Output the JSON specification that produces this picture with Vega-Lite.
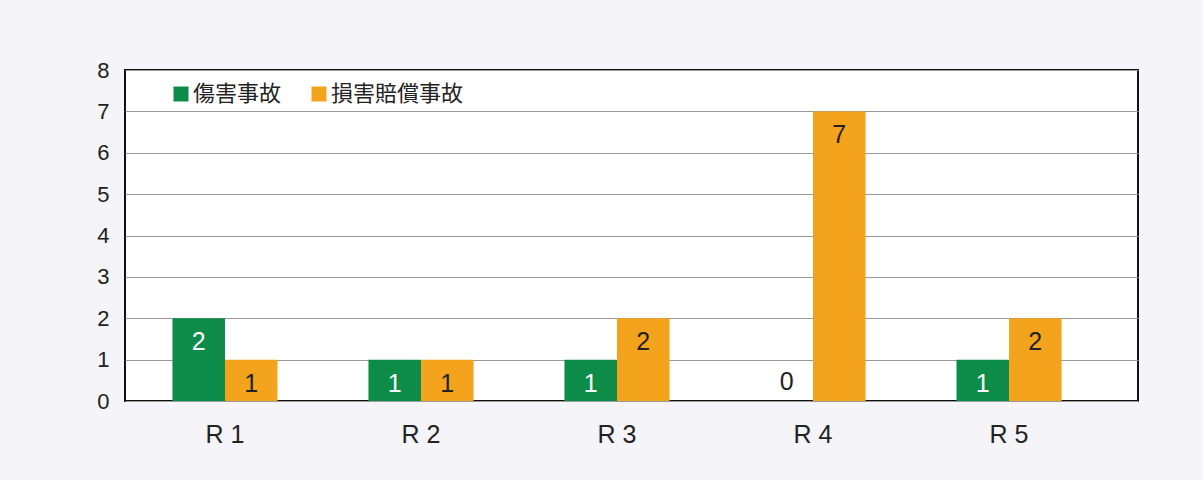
{
  "$schema": "https://vega.github.io/schema/vega-lite/v6.json",
  "width": 1013,
  "height": 331,
  "autosize": {"type": "none"},
  "padding": {"left": 125, "top": 70, "right": 65, "bottom": 79},
  "background": "#f4f4f9",
  "config": {
    "view": {"fill": "white", "stroke": "#111", "strokeWidth": 2},
    "font": "Noto Sans CJK JP"
  },
  "data": {
    "values": [
      {"period": "R 1", "type": "傷害事故", "count": 2},
      {"period": "R 1", "type": "損害賠償事故", "count": 1},
      {"period": "R 2", "type": "傷害事故", "count": 1},
      {"period": "R 2", "type": "損害賠償事故", "count": 1},
      {"period": "R 3", "type": "傷害事故", "count": 1},
      {"period": "R 3", "type": "損害賠償事故", "count": 2},
      {"period": "R 4", "type": "傷害事故", "count": 0},
      {"period": "R 4", "type": "損害賠償事故", "count": 7},
      {"period": "R 5", "type": "傷害事故", "count": 1},
      {"period": "R 5", "type": "損害賠償事故", "count": 2}
    ]
  },
  "encoding": {
    "x": {
      "field": "period", "type": "nominal", "title": null,
      "scale": {"paddingInner": 0.464, "paddingOuter": 0.316, "align": 0.383},
      "axis": {"labelAngle": 0, "domain": false, "ticks": false, "labelPadding": 21, "labelFontSize": 25, "labelColor": "#222", "labelFont": "Liberation Sans"}
    },
    "xOffset": {"field": "type", "type": "nominal", "sort": ["傷害事故", "損害賠償事故"]},
    "y": {
      "field": "count", "type": "quantitative", "title": null,
      "scale": {"domain": [0, 8]},
      "axis": {"values": [0,1,2,3,4,5,6,7,8], "domain": false, "ticks": false, "labelPadding": 16, "labelFontSize": 22, "labelColor": "#222", "labelFont": "Liberation Sans", "gridColor": "#9a9a9a", "gridWidth": 1}
    }
  },
  "layer": [
    {
      "mark": {"type": "bar"},
      "encoding": {
        "color": {
          "field": "type", "type": "nominal",
          "scale": {"domain": ["傷害事故", "損害賠償事故"], "range": ["#0c8c48", "#f4a31c"]},
          "legend": {
            "title": null, "orient": "none", "legendX": 45, "legendY": 13, "direction": "horizontal",
            "symbolType": "square", "symbolSize": 225, "symbolStrokeWidth": 0, "symbolOpacity": 1,
            "labelFontSize": 22, "labelColor": "#222", "labelOffset": 1, "columnPadding": 26,
            "labelFont": "Noto Sans CJK JP"
          }
        }
      }
    },
    {
      "transform": [{"filter": "datum.count > 0"}],
      "mark": {"type": "text", "dy": 24, "baseline": "middle", "fontSize": 25, "font": "Liberation Sans"},
      "encoding": {
        "text": {"field": "count", "type": "quantitative"},
        "color": {
          "condition": {"test": "datum.type === '傷害事故'", "value": "white"},
          "value": "#222"
        }
      }
    },
    {
      "transform": [{"filter": "datum.count === 0"}],
      "mark": {"type": "text", "dy": -19, "baseline": "middle", "fontSize": 25, "font": "Liberation Sans", "color": "#222"},
      "encoding": {
        "text": {"field": "count", "type": "quantitative"}
      }
    }
  ]
}
